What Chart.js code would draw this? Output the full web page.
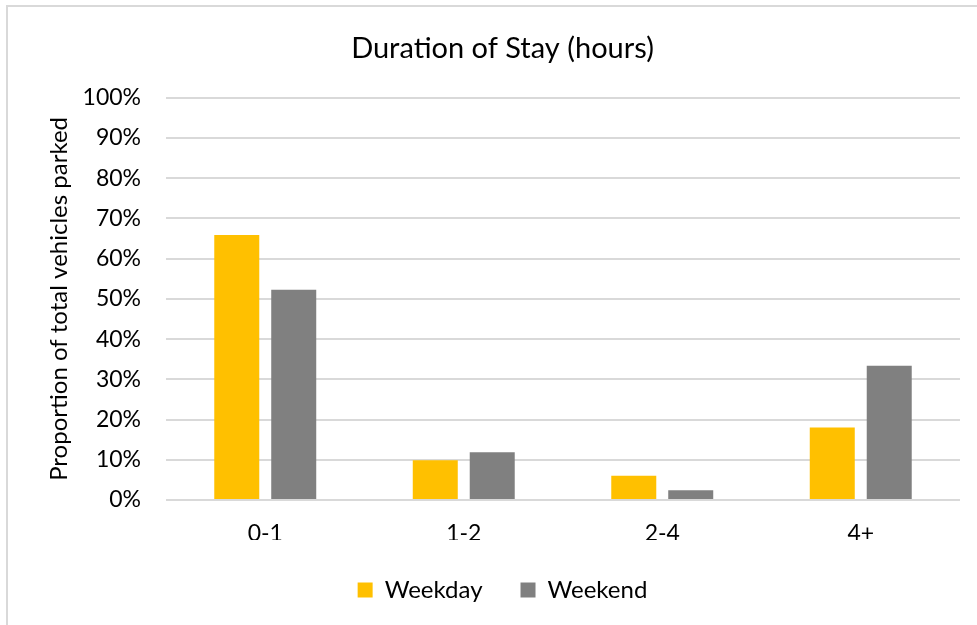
<!DOCTYPE html>
<html>
<head>
<meta charset="utf-8">
<script src="https://cdn.jsdelivr.net/npm/chart.js@4"></script>
<style>
  html, body { margin: 0; padding: 0; background: #fff; overflow: hidden; }
  #wrap { position: relative; width: 977px; height: 625px; }
  #frame { position: absolute; left: 6px; top: 5px; width: 1000px; height: 700px; border: 2px solid #d9d9d9; box-sizing: border-box; }
  canvas { position: absolute; left: 0; top: 0; }
</style>
</head>
<body>
<div id="wrap">
  <div id="frame"></div>
  <canvas id="c" width="977" height="625"></canvas>
</div>
<script>
const categories = ["0-1", "1-2", "2-4", "4+"];
const weekday = [65.9, 9.9, 6.0, 18.0];
const weekend = [52.3, 11.9, 2.4, 33.4];
const yTicks = [0, 10, 20, 30, 40, 50, 60, 70, 80, 90, 100];
const titleText = "Duration of Stay (hours)";
const yTitle = "Proportion of total vehicles parked";

const FONT = "Lato, 'Open Sans', 'Liberation Sans', sans-serif";
Chart.defaults.font.family = FONT;
Chart.defaults.color = "#000";

new Chart(document.getElementById("c"), {
  type: "bar",
  data: {
    labels: categories,
    datasets: [
      { label: "Weekday", data: weekday, backgroundColor: "#FFC000", borderWidth: 0 },
      { label: "Weekend", data: weekend, backgroundColor: "#808080", borderWidth: 0 }
    ]
  },
  options: {
    responsive: false,
    animation: false,
    devicePixelRatio: 1,
    layout: { padding: { left: 45, right: 17, top: 0, bottom: 13 } },
    datasets: { bar: { categoryPercentage: 0.574, barPercentage: 0.79 } },
    plugins: {
      title: {
        display: true, text: titleText,
        font: { size: 29, weight: "normal" }, color: "#000",
        padding: { top: 31, bottom: 32 }
      },
      legend: {
        position: "bottom",
        labels: { boxWidth: 15, boxHeight: 15, padding: 38, font: { size: 24 }, color: "#000" }
      },
      tooltip: { enabled: false }
    },
    scales: {
      x: {
        afterFit: (s) => { s.height = 40; },
        grid: { display: false, drawTicks: false },
        border: { display: false },
        ticks: { font: { size: 23 }, padding: 20, color: "#000" }
      },
      y: {
        min: 0, max: 100,
        afterBuildTicks: (s) => { s.ticks = yTicks.map(v => ({ value: v })); },
        afterFit: (s) => { s.width = 121; },
        grid: { color: "#d9d9d9", lineWidth: 2, drawTicks: false },
        border: { display: false },
        ticks: { font: { size: 23 }, padding: 25, color: "#000", callback: (v) => v + "%" },
        title: { display: true, text: yTitle, font: { size: 24 }, color: "#000", padding: { top: 0, bottom: 4 } }
      }
    }
  }
});
</script>
</body>
</html>
